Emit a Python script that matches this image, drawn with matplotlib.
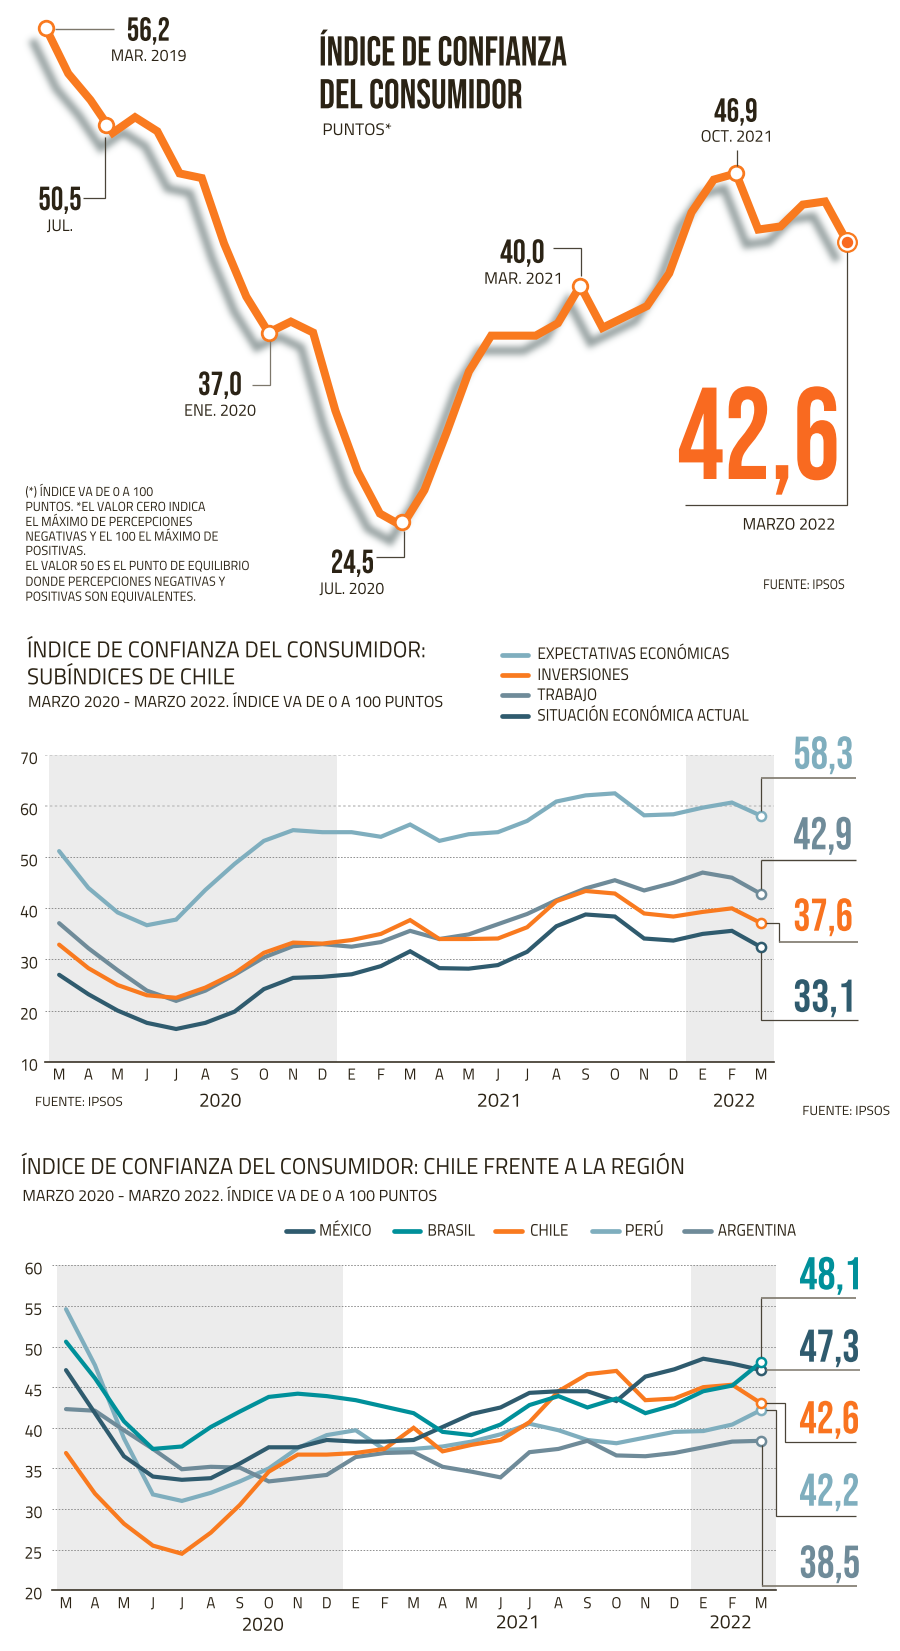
import matplotlib
matplotlib.use("Agg")
import numpy as np
import matplotlib.pyplot as plt
import matplotlib.patheffects as pe
from matplotlib.transforms import Affine2D

# ---------- data ----------
MONTHS = ["M","A","M","J","J","A","S","O","N","D","E","F","M","A","M","J","J","A","S","O","N","D","E","F","M"]
# main index, Mar 2019 - Mar 2022
ICC = [56.2,53.3,51.6,49.5,50.5,49.6,46.9,46.6,42.4,39.0,36.7,37.4,36.7,31.7,27.8,25.1,24.3,26.6,
       30.3,34.2,36.5,36.5,36.5,37.3,39.7,37.0,37.7,38.4,40.5,44.4,46.5,46.9,43.3,43.5,44.9,45.1,42.5]
# sub-indices
EXPECT = [51.2,44.0,39.2,36.7,37.8,43.6,48.7,53.2,55.3,54.9,54.9,54.0,56.4,53.2,54.5,54.9,57.1,60.9,62.1,62.5,58.2,58.4,59.7,60.7,58.1]
TRABAJO = [37.1,32.2,27.9,23.9,21.9,23.9,27.0,30.4,32.6,33.0,32.5,33.4,35.6,34.0,34.9,36.9,38.9,41.6,43.9,45.5,43.5,45.0,47.0,46.0,42.8]
INVERS = [32.9,28.3,25.0,23.0,22.5,24.5,27.3,31.3,33.3,33.1,33.8,35.0,37.7,34.0,34.0,34.1,36.3,41.4,43.4,42.9,39.0,38.4,39.3,40.0,37.1]
SITUAC = [27.0,23.2,20.0,17.6,16.4,17.6,19.8,24.2,26.4,26.6,27.1,28.7,31.6,28.3,28.2,28.9,31.5,36.5,38.8,38.4,34.1,33.7,35.0,35.6,32.4]
# region
MEXICO = [47.1,41.8,36.5,34.0,33.6,33.8,35.6,37.6,37.6,38.5,38.3,38.3,38.5,40.1,41.7,42.5,44.3,44.5,44.5,43.3,46.3,47.2,48.5,47.9,47.1]
BRASIL = [50.6,46.1,40.8,37.4,37.7,40.1,42.0,43.8,44.2,43.9,43.4,42.6,41.8,39.5,39.1,40.4,42.8,43.9,42.5,43.6,41.8,42.8,44.5,45.2,48.1]
CHILE = [36.9,31.9,28.2,25.5,24.5,27.1,30.5,34.6,36.7,36.7,36.9,37.4,40.0,37.1,37.9,38.5,40.7,44.5,46.6,47.0,43.4,43.6,45.0,45.3,43.0]
PERU = [54.6,47.7,38.7,31.8,31.0,32.0,33.4,35.0,37.5,39.1,39.7,37.3,37.4,37.7,38.3,39.2,40.5,39.7,38.5,38.1,38.8,39.5,39.6,40.4,42.2]
ARGENT = [42.3,42.1,39.7,37.4,34.9,35.2,35.1,33.4,33.8,34.2,36.4,36.9,37.0,35.2,34.6,33.9,37.0,37.4,38.4,36.6,36.5,36.9,37.6,38.3,38.4]

# ---------- style ----------
ORANGE = "#F97A1F"; BIG = "#F96A20"
CELESTE = "#7FAEBE"; GRIS = "#6F8B99"; AZUL = "#2F5B6E"; TEAL = "#00909A"
INK = "#2B2315"; LEAD = "#4A4438"; LEADG = "#7D776B"; BAND = "#ECECEC"
BODY = ["Titillium Web", "Roboto", "DejaVu Sans"]
DISPLAY = ["Bebas Neue", "Roboto", "DejaVu Sans"]
W, H = 900, 1651

fig = plt.figure(figsize=(W/100, H/100), dpi=100, facecolor="white")


class Fit(pe.AbstractPathEffect):
    """Squeeze a text run horizontally, to a pixel width or by a factor."""
    def __init__(self, width=None, sx=None, anchor=0.0):
        super().__init__()
        self.width, self.sx, self.anchor = width, sx, anchor

    def draw_path(self, renderer, gc, tpath, affine, rgbFace=None):
        ext = affine.transform_path(tpath).get_extents()
        sx = self.sx if self.sx else self.width / max(ext.width, 1e-6)
        piv = ext.x0 + self.anchor * ext.width
        aff = affine + Affine2D().translate(-piv, 0).scale(sx, 1).translate(piv, 0)
        gc.set_snap(False)
        renderer.draw_path(gc, tpath, aff, rgbFace)


def soft_shadow(img, dpi):
    """Agg filter: blur the drawn line and slide it down-left."""
    pad, sig, dx, dy = 30, 3.2, -12, 15
    a = np.pad(img[:, :, 3], pad)
    k = np.exp(-0.5 * (np.arange(-10, 11) / sig) ** 2); k /= k.sum()
    a = np.apply_along_axis(lambda m: np.convolve(m, k, mode="same"), 0, a)
    a = np.apply_along_axis(lambda m: np.convolve(m, k, mode="same"), 1, a)
    a = np.roll(np.roll(a, dy, axis=0), dx, axis=1)
    out = np.zeros(a.shape + (4,))
    out[:, :, :3] = np.array([0.50, 0.55, 0.55])
    out[:, :, 3] = a * 0.85
    return out, -pad, -pad


def chart_axes(x0, x1, y_top, y_bot, xlim, ylim):
    ax = fig.add_axes([x0/W, 1-y_bot/H, (x1-x0)/W, (y_bot-y_top)/H])
    ax.set_xlim(*xlim); ax.set_ylim(*ylim)
    ax.patch.set_alpha(0)
    return ax


over = fig.add_axes([0, 0, 1, 1], zorder=10)
over.set_xlim(0, W); over.set_ylim(H, 0); over.axis("off")


def t(x0, x1, base, s, size, color=INK, family=BODY):
    over.text(x0, base, s, fontsize=size, color=color, family=family,
              ha="left", va="baseline", path_effects=[Fit(width=x1-x0)])


def lead(xs, ys, color=LEAD, lw=0.9):
    over.plot(xs, ys, color=color, lw=lw, solid_joinstyle="miter", solid_capstyle="butt")


# ---------- chart 1 ----------
a1 = chart_axes(46, 847.3, 28.3, 526, (0, 36), (24.3, 56.2))
a1.axis("off")
a1.plot(range(len(ICC)), ICC, color="k", lw=5.8, clip_on=False, solid_joinstyle="miter", agg_filter=soft_shadow, zorder=1)
a1.plot(range(len(ICC)), ICC, color=ORANGE, lw=5.8, clip_on=False, solid_joinstyle="miter", zorder=2)
for ix, val in [(0, 56.2), (2.7, 50.0), (10, 36.7), (16, 24.55), (24, 39.7), (31, 46.9)]:
    a1.plot([ix], [val], "o", ms=10.5, mfc="white", mec=ORANGE, mew=2, clip_on=False, zorder=5)
a1.plot([36], [42.5], "o", ms=13.5, mfc="white", mec=ORANGE, mew=1.6, clip_on=False, zorder=5)
a1.plot([36], [42.5], "o", ms=8.2, mfc=BIG, mec=BIG, mew=0, clip_on=False, zorder=6)

t(319, 565, 65.5, "ÍNDICE DE CONFIANZA", 30, family=DISPLAY)
t(319, 520, 108.3, "DEL CONSUMIDOR", 30, family=DISPLAY)
t(322.4, 389.7, 135, "PUNTOS*", 12)
t(126.7, 167.7, 40.7, "56,2", 24, family=DISPLAY)
t(110.7, 184.3, 61, "MAR. 2019", 12)
t(38.3, 79.3, 210, "50,5", 24, family=DISPLAY)
t(46.7, 71.7, 231, "JUL.", 12)
t(198, 239.7, 395, "37,0", 24, family=DISPLAY)
t(184, 254, 415.8, "ENE. 2020", 12)
t(330.7, 371.7, 573, "24,5", 24, family=DISPLAY)
t(319.3, 383.3, 594, "JUL. 2020", 12)
t(500, 543, 262.8, "40,0", 24, family=DISPLAY)
t(484, 558.6, 283.8, "MAR. 2021", 12)
t(714, 756, 121.7, "46,9", 24, family=DISPLAY)
t(700.7, 769, 141.7, "OCT. 2021", 12)
t(677, 834.5, 479, "42,6", 94, color=BIG, family=DISPLAY)
t(742.5, 832.8, 529.6, "MARZO 2022", 12)
t(763, 843, 589, "FUENTE: IPSOS", 10)
NOTE = [("(*) ÍNDICE VA DE 0 A 100", 152, 496), ("PUNTOS. *EL VALOR CERO INDICA", 204, 511),
        ("EL MÁXIMO DE PERCEPCIONES", 190.8, 526), ("NEGATIVAS Y EL 100 EL MÁXIMO DE", 216.7, 540.7),
        ("POSITIVAS.", 84, 555), ("EL VALOR 50 ES EL PUNTO DE EQUILIBRIO", 247.7, 570),
        ("DONDE PERCEPCIONES NEGATIVAS Y", 224, 585.8), ("POSITIVAS SON EQUIVALENTES.", 194, 600.8)]
for s, x1, b in NOTE:
    t(25.3, x1, b, s, 9.5)
lead([55, 114.3], [28.6, 28.6], LEADG, 1.0)
lead([105, 105, 83.3], [137, 198, 198])
lead([270, 270, 251.7], [341, 384.6, 384.6], LEADG)
lead([404, 404, 376], [531, 557, 557])
lead([553, 580.7, 580.7], [248, 248, 276])
lead([736.7, 736.7], [149.7, 166])
lead([847.3, 847.3, 685], [252, 504.7, 504.7])


# ---------- shared for charts 2 and 3 ----------
def style_axis(ax, yticks, pad_y, band1, band2, light=()):
    for b in (band1, band2):
        ax.axvspan(*b, color=BAND, lw=0, zorder=0)
    for s in ("top", "left", "right"):
        ax.spines[s].set_visible(False)
    ax.spines["bottom"].set_color("#3A3328"); ax.spines["bottom"].set_linewidth(1.2)
    ax.set_xticks(range(len(MONTHS))); ax.set_xticklabels(MONTHS)
    ax.set_yticks(yticks)
    ax.tick_params(axis="x", length=0, pad=5, labelsize=11.5, labelcolor=INK)
    ax.tick_params(axis="y", length=0, pad=pad_y, labelsize=12.5, labelcolor=INK)
    ax.yaxis.grid(True, color="#8E8E8E", lw=0.7, linestyle=(0, (1.6, 1.6)))
    ax.set_axisbelow(True)
    for i in light:
        ax.get_ygridlines()[i].set_color("#C4C4C4"); ax.get_ygridlines()[i].set_linewidth(1.1)
    for lab in ax.get_xticklabels():
        lab.set_family(BODY); lab.set_path_effects([Fit(sx=0.95, anchor=0.5)])
    for lab in ax.get_yticklabels():
        lab.set_family(BODY); lab.set_va("center_baseline"); lab.set_path_effects([Fit(sx=0.9, anchor=1.0)])
        lab.set_transform(lab.get_transform() + Affine2D().translate(0, -2.5))


def series(ax, vals, color, lw=3.0):
    ax.plot(range(len(vals)), vals, color=color, lw=lw, solid_joinstyle="miter", solid_capstyle="round", zorder=3)
    ax.plot([len(vals)-1], [vals[-1]], "o", ms=6.6, mfc="white", mec=color, mew=1.8, zorder=6, clip_on=False)


def legend_item(x0, x1, y, color):
    over.plot([x0+2.3, x1-2.3], [y, y], color=color, lw=3.4, solid_capstyle="round")


# ---------- chart 2 ----------
a2 = chart_axes(45, 773.7, 755, 1061.7, (-0.483, 24.43), (10, 70))
style_axis(a2, [10, 20, 30, 40, 50, 60, 70], 5.3, (-0.34, 9.49), (21.43, 24.43), light=(5, 6))
series(a2, EXPECT, CELESTE)
series(a2, TRABAJO, GRIS)
series(a2, INVERS, ORANGE)
series(a2, SITUAC, AZUL)

t(27, 424, 657.3, "ÍNDICE DE CONFIANZA DEL CONSUMIDOR:", 16.5)
t(27, 233, 684.3, "SUBÍNDICES DE CHILE", 16.5)
t(28, 441, 707, "MARZO 2020 - MARZO 2022. ÍNDICE VA DE 0 A 100 PUNTOS", 11.5)
LEG2 = [("EXPECTATIVAS ECONÓMICAS", 727.3, 654.7, 659, CELESTE), ("INVERSIONES", 626.7, 675, 680, ORANGE),
        ("TRABAJO", 596, 695.3, 700, GRIS), ("SITUACIÓN ECONÓMICA ACTUAL", 747.7, 715.7, 720.7, AZUL)]
for s, x1, y, b, c in LEG2:
    legend_item(499.3, 530, y, c)
    t(537.3, x1, b, s, 12)
for s, b, c in [("58,3", 768.7, CELESTE), ("42,9", 849.3, GRIS), ("37,6", 930.7, "#F9731F"), ("33,1", 1011.7, AZUL)]:
    t(793.3, 850, b, s, 33, color=c, family=DISPLAY)
lead([761, 761], [811, 778.3]); lead([761, 855.7], [778.3, 778.3], LEADG, 1.2)
lead([761, 761], [889, 860.3]); lead([761, 855.7], [860.3, 860.3], LEAD, 1.0)
lead([766, 779.3, 779.3], [923, 923, 941.7]); lead([779.3, 858], [941.7, 941.7], LEADG, 1.2)
lead([761, 761, 858], [952, 1020.3, 1020.3])
t(35, 121, 1106, "FUENTE: IPSOS", 9.5)
t(802.3, 888.3, 1115, "FUENTE: IPSOS", 9.5)
t(199, 239.3, 1106.7, "2020", 14)
t(476.7, 516.7, 1106.7, "2021", 14)
t(712.7, 752.7, 1106.7, "2022", 14)

# ---------- chart 3 ----------
a3 = chart_axes(51.7, 775.7, 1265.3, 1590.3, (-0.494, 24.5), (20, 60))
style_axis(a3, [20, 25, 30, 35, 40, 45, 50, 55, 60], 6.8, (-0.31, 9.55), (21.58, 24.5))
series(a3, PERU, CELESTE)
series(a3, ARGENT, GRIS)
series(a3, CHILE, ORANGE)
series(a3, MEXICO, AZUL)
series(a3, BRASIL, TEAL)

t(21.3, 682.8, 1174, "ÍNDICE DE CONFIANZA DEL CONSUMIDOR: CHILE FRENTE A LA REGIÓN", 16.5)
t(22.4, 435, 1201, "MARZO 2020 - MARZO 2022. ÍNDICE VA DE 0 A 100 PUNTOS", 11.5)
LEG3 = [("MÉXICO", 283.3, 315, 319, 369.3, AZUL), ("BRASIL", 391.7, 422.7, 427.3, 473.3, TEAL),
        ("CHILE", 492.7, 524, 530, 566.7, ORANGE), ("PERÚ", 590, 621, 624.7, 661, CELESTE),
        ("ARGENTINA", 682, 713, 717.8, 795.4, GRIS)]
for s, l0, l1, x0, x1, c in LEG3:
    legend_item(l0, l1, 1231, c)
    t(x0, x1, 1235.7, s, 12)
for s, b, c in [("48,1", 1289.3, TEAL), ("47,3", 1361.7, AZUL), ("42,6", 1433.3, "#F9731F"),
                ("42,2", 1505.7, CELESTE), ("38,5", 1577.7, GRIS)]:
    t(799.3, 857.3, b, s, 33, color=c, family=DISPLAY)
lead([761, 761], [1357, 1298]); lead([761, 855.7], [1298, 1298], LEADG, 1.2)
lead([766, 860], [1369.7, 1369.7], LEADG, 1.1)
lead([766, 785, 785, 855.7], [1403.3, 1403.3, 1442.3, 1442.3])
lead([766, 775.7, 775.7, 855.7], [1410, 1410, 1515.7, 1515.7])
lead([762.3, 762.3], [1445, 1586]); lead([762.3, 856.7], [1586, 1586], LEADG, 1.2)
t(241.7, 281.7, 1630.7, "2020", 14)
t(495.7, 535, 1628.3, "2021", 14)
t(709.3, 749, 1628.3, "2022", 14)

fig.savefig("out.png", dpi=100, facecolor="white")
